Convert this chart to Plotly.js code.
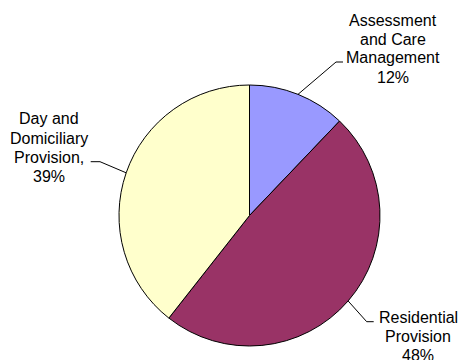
<!DOCTYPE html>
<html>
<head>
<meta charset="utf-8">
<script src="https://cdn.plot.ly/plotly-3.0.1.min.js"></script>
<style>html,body{margin:0;padding:0;background:#fff;}#chart{width:461px;height:360px;}</style>
</head>
<body>
<div id="chart"></div>
<script>
// Data
var categories = ["Assessment and Care Management", "Residential Provision", "Day and Domiciliary Provision"];
var values = [12, 48, 39];
var labelLines = [
  ["Assessment", "and Care", "Management", "12%"],
  ["Residential", "Provision", "48%"],
  ["Day and", "Domiciliary", "Provision,", "39%"]
];
var colors = ["#9999FF", "#993366", "#FFFFCC"];

// Layout geometry (pixels)
var W = 461, H = 360;
var cx = 249.5, cy = 215.5, R = 130.5;
var lineGap = 19;
var dom = {x: [(cx - R) / W, (cx + R) / W], y: [(H - (cy + R)) / H, (H - (cy - R)) / H]};
// label layout: text centre x, first line centre y, elbow point, line end point (pixels)
var labelLayout = [
  {tx: 393, ty: 20, elbow: [336, 62], end: [343, 62]},
  {tx: 418, ty: 317, elbow: [366.7, 321.7], end: [373.7, 321.7]},
  {tx: 49, ty: 119, elbow: [100, 161.7], end: [90.7, 161.7]}
];

function px(x) { return x / W; }
function py(y) { return 1 - y / H; }

var total = values.reduce(function (a, b) { return a + b; }, 0);
var cum = 0;
var shapes = [], annotations = [];
values.forEach(function (v, i) {
  var mid = (cum + v / 2) / total * 2 * Math.PI;
  cum += v;
  var ex = cx + R * Math.sin(mid), ey = cy - R * Math.cos(mid);
  var L = labelLayout[i];
  shapes.push({
    type: 'path', xref: 'paper', yref: 'paper',
    path: 'M ' + px(ex) + ' ' + py(ey) + ' L ' + px(L.elbow[0]) + ' ' + py(L.elbow[1]) + ' L ' + px(L.end[0]) + ' ' + py(L.end[1]),
    line: {color: '#000', width: 1}
  });
  labelLines[i].forEach(function (t, j) {
    annotations.push({
      xref: 'paper', yref: 'paper', x: px(L.tx), y: py(L.ty + j * lineGap),
      xanchor: 'center', yanchor: 'middle', showarrow: false, align: 'center',
      text: t,
      font: {family: 'Liberation Sans, Arial, sans-serif', size: 16, color: '#000'}
    });
  });
});

var trace = {
  type: 'pie',
  labels: categories,
  values: values,
  sort: false,
  direction: 'clockwise',
  rotation: 0,
  textinfo: 'none',
  hoverinfo: 'label+percent',
  marker: {colors: colors, line: {color: '#000', width: 1}},
  domain: dom,
  showlegend: false
};

var layout = {
  width: W, height: H,
  margin: {l: 0, r: 0, t: 0, b: 0},
  paper_bgcolor: '#fff', plot_bgcolor: '#fff',
  showlegend: false,
  shapes: shapes,
  annotations: annotations
};

Plotly.newPlot('chart', [trace], layout, {displayModeBar: false, staticPlot: true});
</script>
</body>
</html>
